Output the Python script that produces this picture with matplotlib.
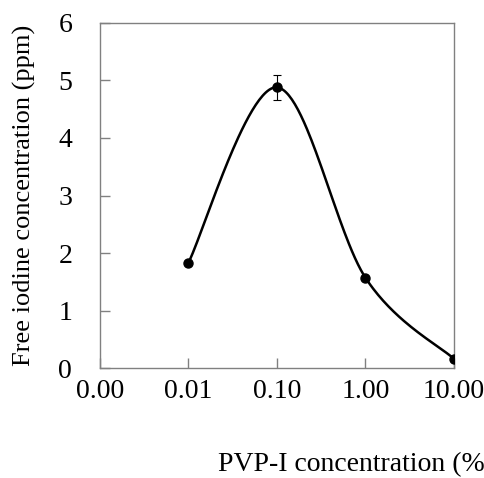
import numpy as np
import matplotlib
matplotlib.use('Agg')
import matplotlib.pyplot as plt
from matplotlib.ticker import FixedLocator, FuncFormatter

# data
pvp_conc = [0.01, 0.1, 1.0, 10.0]
free_iodine = [1.83, 4.88, 1.57, 0.16]
iodine_err = [0.0, 0.22, 0.0, 0.0]
x_ticks = [0.001, 0.01, 0.1, 1.0, 10.0]
y_ticks = [0, 1, 2, 3, 4, 5, 6]


def smooth_curve(xs, ys, n=60):
    # catmull-rom through the points in log-x space, like a spreadsheet smoothed line
    lx = np.log10(xs)
    # scale both axes to roughly equal visual units
    sx = lx / 4.0
    sy = np.asarray(ys) / 6.0
    pts = np.column_stack([sx, sy])
    pts = np.vstack([pts[0], pts, pts[-1]])
    out = []
    for i in range(1, len(pts) - 2):
        p0, p1, p2, p3 = pts[i - 1], pts[i], pts[i + 1], pts[i + 2]
        c1 = p1 + (p2 - p0) / 6.0
        c2 = p2 - (p3 - p1) / 6.0
        t = np.linspace(0, 1, n)[:, None]
        seg = ((1 - t) ** 3) * p1 + 3 * ((1 - t) ** 2) * t * c1 + 3 * (1 - t) * t ** 2 * c2 + t ** 3 * p2
        out.append(seg)
    out = np.vstack(out)
    return 10 ** (out[:, 0] * 4.0), out[:, 1] * 6.0


def main():
    plt.rcParams['font.family'] = ['Liberation Serif', 'DejaVu Serif']
    fig = plt.figure(figsize=(4.85, 4.78), dpi=100)
    ax = fig.add_axes([0.206, 0.230, 0.730, 0.722])

    cx, cy = smooth_curve(pvp_conc, free_iodine)
    ax.plot(cx, cy, color='black', lw=1.8, zorder=2)
    ax.errorbar(pvp_conc, free_iodine, yerr=iodine_err, fmt='o', color='black',
                ms=6.5, elinewidth=0.8, capsize=3, capthick=0.8, zorder=3)

    ax.set_xscale('log')
    ax.set_xlim(0.001, 10)
    ax.set_ylim(0, 6)
    ax.xaxis.set_major_locator(FixedLocator(x_ticks))
    ax.xaxis.set_minor_locator(FixedLocator([]))
    ax.xaxis.set_major_formatter(FuncFormatter(lambda v, p: '%.2f' % v))
    ax.set_yticks(y_ticks)

    for s in ax.spines.values():
        s.set_color('#808080')
        s.set_linewidth(1.0)
    ax.tick_params(direction='in', length=7, width=1.0, color='#808080',
                   labelsize=20, pad=8)
    ax.tick_params(axis='y', pad=20)

    ax.set_ylabel('Free iodine concentration (ppm)', fontsize=19)
    ax.yaxis.set_label_coords(-0.18, 0.5)
    fig.text(218 / 485, 1 - 465 / 478, 'PVP-I concentration (%)', fontsize=20,
             ha='left', va='center')

    fig.savefig('out.png', dpi=100)


if __name__ == '__main__':
    main()
